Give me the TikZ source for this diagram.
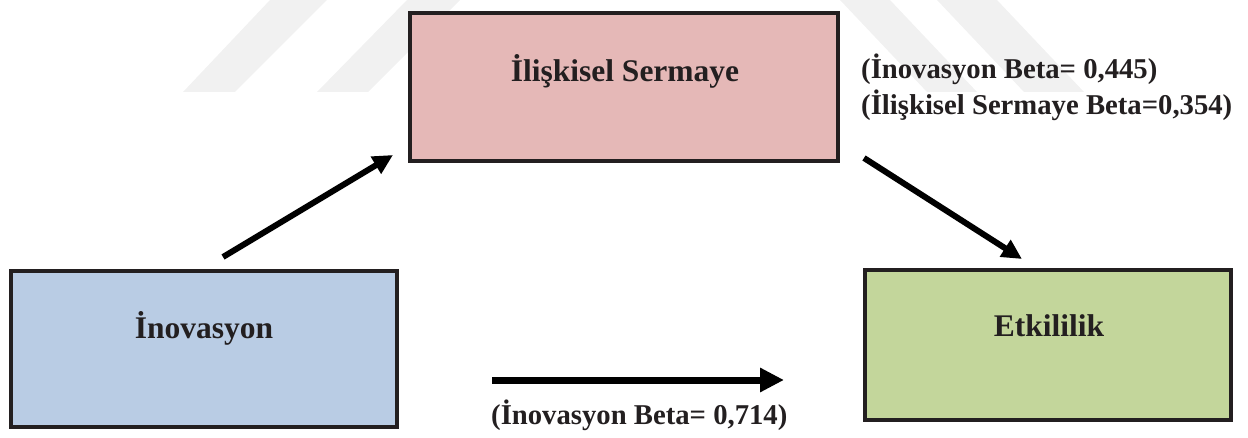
\documentclass[tikz,border=0pt]{standalone}
\usepackage{fontspec}
\setmainfont{Liberation Serif}
\usetikzlibrary{arrows.meta,calc}
\definecolor{edgeclr}{HTML}{231F20}
\definecolor{pinkfill}{HTML}{E5B8B7}
\definecolor{bluefill}{HTML}{B9CCE4}
\definecolor{greenfill}{HTML}{C3D69B}
\definecolor{markgray}{HTML}{F1F1F1}
\tikzset{
  varbox/.style={draw=edgeclr, line width=4pt, minimum width=#1, inner sep=0pt, outer sep=0pt},
  boxtext/.style={anchor=base, inner sep=0pt, font=\fontsize{31.5}{36}\selectfont\bfseries, text=edgeclr},
  betatext/.style={inner sep=0pt, font=\fontsize{28.7}{34}\selectfont\bfseries, text=edgeclr},
  linkarrow/.style={line width=6pt, -{Triangle[length=20pt,width=19pt]}},
  directarrow/.style={line width=7pt, -{Triangle[length=24pt,width=23pt]}},
  stripe/.style={fill=markgray, draw=none}
}
\begin{document}
\begin{tikzpicture}[x=1pt,y=-1pt]
  \useasboundingbox (0,0) rectangle (1248,438);
  % faint background stripes
  \fill[stripe] (183,92) -- (235,92) -- (327,0) -- (270,0) -- cycle;
  \fill[stripe] (317,92) -- (368,92) -- (460,0) -- (407,0) -- cycle;
  \fill[stripe] (927,92) -- (977,92) -- (890,0) -- (840,0) -- cycle;
  \fill[stripe] (1024,92) -- (1084,92) -- (997,0) -- (937,0) -- cycle;
  % the three variables
  \node[varbox=428pt, minimum height=148pt, fill=pinkfill] (rel) at (624,87) {};
  \node[varbox=386pt, minimum height=156pt, fill=bluefill] (ino) at (204,349) {};
  \node[varbox=366pt, minimum height=150pt, fill=greenfill] (eff) at (1048,345) {};
  \node[boxtext] (relt) at ($(rel.center)+(1,-5)$) {İlişkisel Sermaye};
  \node[boxtext] (inot) at ($(ino.center)+(0,-10)$) {İnovasyon};
  \node[boxtext] (efft) at ($(eff.center)+(1,-8)$) {Etkililik};
  % path coefficients
  \node[betatext, anchor=base west] (b1) at (861,79) {(İnovasyon Beta= 0,445)};
  \node[betatext, anchor=base west] (b2) at (861,115) {(İlişkisel Sermaye Beta=0,354)};
  \node[betatext, anchor=base west] (b3) at (491,424) {(İnovasyon Beta= 0,714)};
  % arrows
  \coordinate (a1s) at (223,257);
  \coordinate (a1e) at (393,155);
  \coordinate (a2s) at (864,158);
  \coordinate (a2e) at (1022,259);
  \coordinate (a3s) at (492,380);
  \coordinate (a3e) at (784,380);
  \draw[linkarrow] (a1s) -- (a1e);
  \draw[linkarrow] (a2s) -- (a2e);
  \draw[directarrow] (a3s) -- (a3e);
\end{tikzpicture}
\end{document}
